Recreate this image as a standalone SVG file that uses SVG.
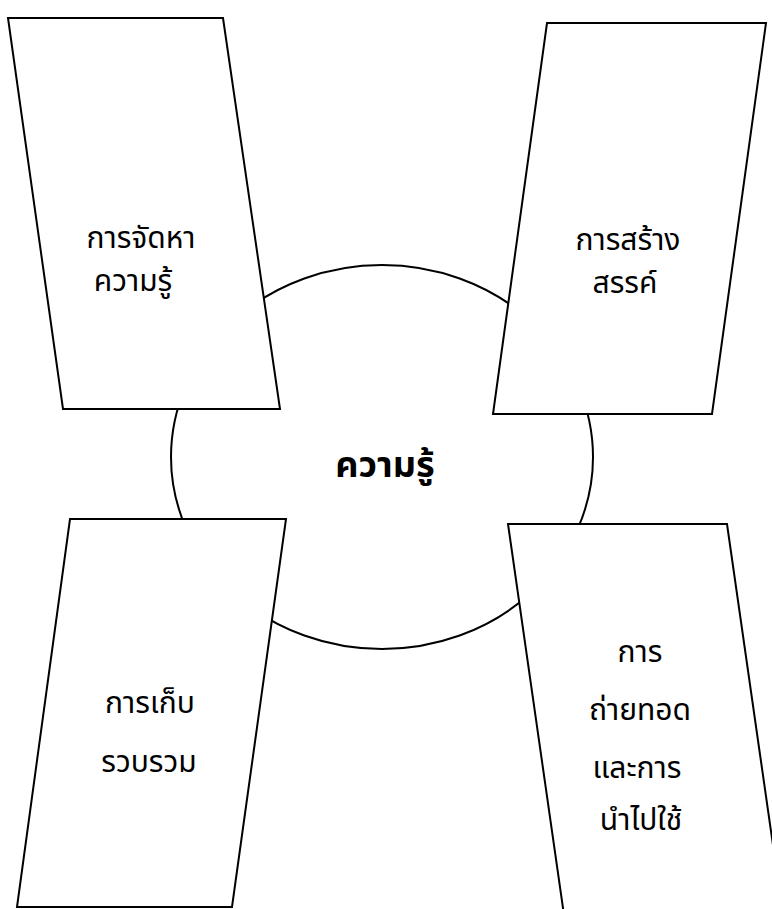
<svg xmlns="http://www.w3.org/2000/svg" width="772" height="909" viewBox="0 0 772 909">
<style>
.box{fill:#fff;stroke:#000;stroke-width:2;stroke-linejoin:miter}
.hub{fill:#fff;stroke:#000;stroke-width:2}
.lbl{font-family:"Noto Sans Thai","Noto Sans","DejaVu Sans",sans-serif;font-size:30px;fill:#000;text-anchor:middle}
.main{font-family:"Noto Sans Thai","Noto Sans","DejaVu Sans",sans-serif;font-size:36px;font-weight:bold;fill:#000;text-anchor:middle}
</style>
<rect width="772" height="909" fill="#fff"/>
<g id="center">
<ellipse class="hub" cx="382" cy="457" rx="211" ry="192"/>
<text class="main" x="385" y="477">ความรู้</text>
</g>
<g id="connectors"></g>
<g id="node-acquire">
<polygon class="box" points="8,18 223,18 280,409 63,409"/>
<text class="lbl" x="141" y="248">การจัดหา</text>
<text class="lbl" x="133" y="291">ความรู้</text>
</g>
<g id="node-create">
<polygon class="box" points="547,23 766,23 712,414 493,414"/>
<text class="lbl" x="628" y="250">การสร้าง</text>
<text class="lbl" x="625" y="293">สรรค์</text>
</g>
<g id="node-store">
<polygon class="box" points="70,519 286,519 232,907 17,907"/>
<text class="lbl" x="150" y="713">การเก็บ</text>
<text class="lbl" x="149" y="772">รวบรวม</text>
</g>
<g id="node-transfer">
<polygon class="box" points="508,524 727,524 783,915 564,915"/>
<text class="lbl" x="640" y="662">การ</text>
<text class="lbl" x="640" y="720">ถ่ายทอด</text>
<text class="lbl" x="637" y="778">และการ</text>
<text class="lbl" x="641" y="830">นำไปใช้</text>
</g>
</svg>
